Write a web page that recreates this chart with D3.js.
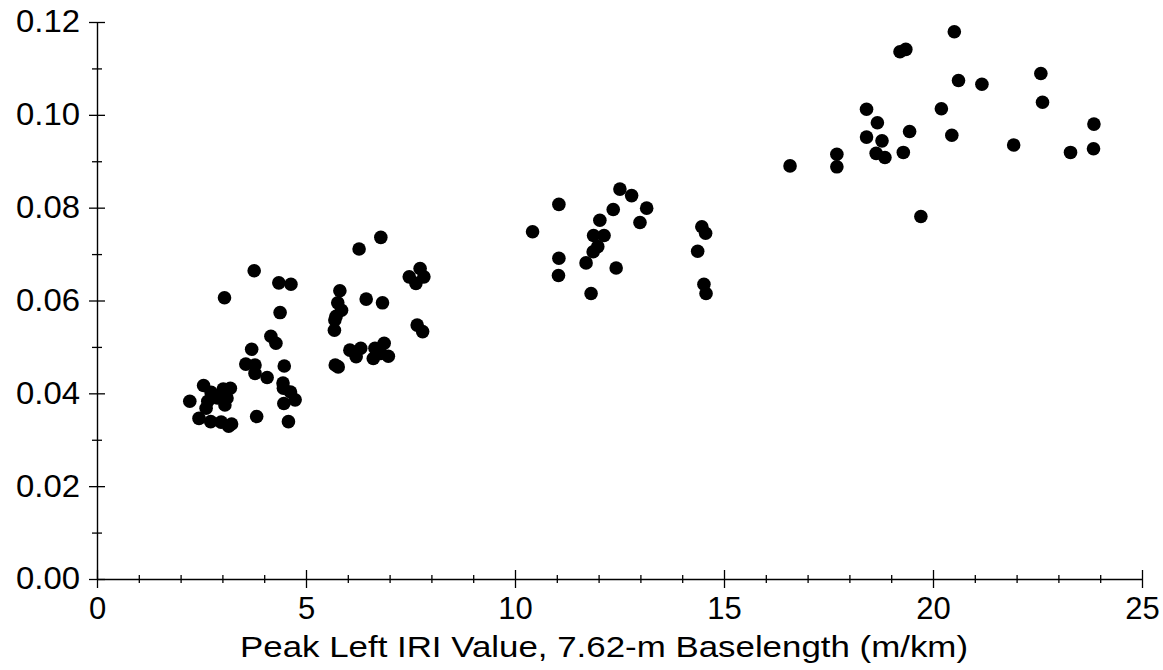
<!DOCTYPE html>
<html>
<head>
<meta charset="utf-8">
<script src="https://cdn.jsdelivr.net/npm/d3@7"></script>
<style>
  body { margin: 0; background: #fff; }
  text { font-family: Arial, "Liberation Sans", sans-serif; fill: #000; }
</style>
</head>
<body>
<svg width="1163" height="670"></svg>
<script>
// peak left IRI (m/km) and the y measure
var iriX = [
  2.22, 2.55, 2.73, 2.65, 2.88, 3.11, 3.19, 3.02, 3.06, 2.61, 2.44, 2.72, 2.97, 3.15, 3.22,
  3.76, 4.35, 4.64, 3.05, 4.38, 4.16, 4.28, 3.70, 3.56, 3.78, 3.78, 4.07, 4.48, 4.45, 4.46,
  4.63, 4.74, 4.47, 4.58, 3.82,
  5.81, 5.76, 5.85, 5.72, 5.69, 5.68, 5.70, 5.77, 6.44, 6.83, 6.27, 6.79, 7.47, 7.73, 7.82,
  7.63, 7.66, 7.79, 6.05, 6.31, 6.20, 6.65, 6.87, 6.61, 6.97, 6.79,
  10.42, 11.05, 11.05, 11.04, 11.70, 11.82, 11.87, 11.98, 11.88, 12.13, 12.03, 12.35, 12.51,
  12.79, 12.42, 12.99, 13.15, 14.47, 14.56, 14.37, 14.52, 14.57,
  16.58, 17.70, 17.70, 18.41, 18.67, 18.41, 18.78, 18.64, 18.85, 19.44, 19.29, 19.21, 19.35,
  19.71, 20.20, 20.45, 20.51, 20.61, 21.17, 21.93, 22.58, 22.62, 23.29, 23.85, 23.84
];
var valY = [
  0.0383, 0.0417, 0.0402, 0.0383, 0.0390, 0.0390, 0.0411, 0.0409, 0.0375, 0.0368, 0.0346, 0.0339, 0.0338, 0.0329, 0.0334,
  0.0664, 0.0638, 0.0635, 0.0606, 0.0574, 0.0523, 0.0508, 0.0495, 0.0463, 0.0461, 0.0443, 0.0434, 0.0459, 0.0422, 0.0411,
  0.0403, 0.0386, 0.0378, 0.0339, 0.0350,
  0.0621, 0.0595, 0.0579, 0.0566, 0.0558, 0.0536, 0.0461, 0.0457, 0.0603, 0.0595, 0.0711, 0.0736, 0.0651, 0.0669, 0.0651,
  0.0637, 0.0547, 0.0533, 0.0493, 0.0497, 0.0479, 0.0497, 0.0508, 0.0475, 0.0480, 0.0486,
  0.0748, 0.0807, 0.0691, 0.0654, 0.0681, 0.0615, 0.0705, 0.0716, 0.0740, 0.0740, 0.0773, 0.0796, 0.0840,
  0.0826, 0.0670, 0.0768, 0.0799, 0.0759, 0.0745, 0.0706, 0.0635, 0.0615,
  0.0890, 0.0915, 0.0888, 0.1012, 0.0983, 0.0952, 0.0944, 0.0917, 0.0908, 0.0964, 0.0919, 0.1136, 0.1141,
  0.0781, 0.1013, 0.0956, 0.1179, 0.1074, 0.1066, 0.0935, 0.1089, 0.1027, 0.0919, 0.0980, 0.0927
];
var xTicks = [0, 5, 10, 15, 20, 25];
var yTicks = [0, 0.02, 0.04, 0.06, 0.08, 0.10, 0.12];
var xTitle = "Peak Left IRI Value, 7.62-m Baselength (m/km)";

var svg = d3.select("svg");
var plotL = 97, plotR = 1142, plotT = 22, plotB = 579;

var x = d3.scaleLinear().domain([0, 25]).range([plotL, plotR]);
var y = d3.scaleLinear().domain([0, 0.12]).range([plotB, plotT]);

// minor ticks
var xMinor = d3.range(0, 26, 1).filter(function(v) { return v % 5 !== 0; });
var yMinor = d3.range(1, 12, 2).map(function(v) { return v / 100; });

var gx = svg.append("g").attr("transform", "translate(0," + plotB + ")");
gx.append("g").call(d3.axisBottom(x).tickValues(xMinor).tickFormat("").tickSizeOuter(0))
  .call(function(g) { g.select(".domain").remove(); g.selectAll(".tick line").attr("y1", -4).attr("y2", 4); });
gx.append("g").call(d3.axisBottom(x).tickValues(xTicks).tickFormat(d3.format("d")).tickSizeOuter(0).tickPadding(12))
  .call(function(g) {
    g.selectAll(".tick line").attr("y1", -9).attr("y2", 9);
    g.selectAll(".tick text").style("font-size", "31px");
  });

var gy = svg.append("g").attr("transform", "translate(" + plotL + ",0)");
gy.append("g").call(d3.axisLeft(y).tickValues(yMinor).tickFormat("").tickSizeOuter(0))
  .call(function(g) { g.select(".domain").remove(); g.selectAll(".tick line").attr("x1", -5).attr("x2", 5); });
gy.append("g").call(d3.axisLeft(y).tickValues(yTicks).tickFormat(d3.format(".2f")).tickSizeOuter(0).tickPadding(11))
  .call(function(g) {
    g.selectAll(".tick line").attr("x1", -8).attr("x2", 8);
    g.selectAll(".tick text").style("font-size", "31px").attr("textLength", 64).attr("lengthAdjust", "spacingAndGlyphs");
  });

svg.selectAll(".domain").attr("stroke", "#000").attr("stroke-width", 1.4);
svg.selectAll(".tick line").attr("stroke", "#000").attr("stroke-width", 1.3);
svg.selectAll(".tick text").attr("fill", "#000").style("font-family", "Arial, 'Liberation Sans', sans-serif");

svg.append("text")
  .attr("x", 604).attr("y", 657)
  .attr("text-anchor", "middle")
  .attr("textLength", 728)
  .attr("lengthAdjust", "spacingAndGlyphs")
  .style("font-size", "30px")
  .text(xTitle);

svg.append("g").selectAll("circle")
  .data(iriX)
  .enter().append("circle")
  .attr("cx", function(d) { return x(d); })
  .attr("cy", function(d, i) { return y(valY[i]); })
  .attr("r", 6.8)
  .attr("fill", "#000");
</script>
</body>
</html>
